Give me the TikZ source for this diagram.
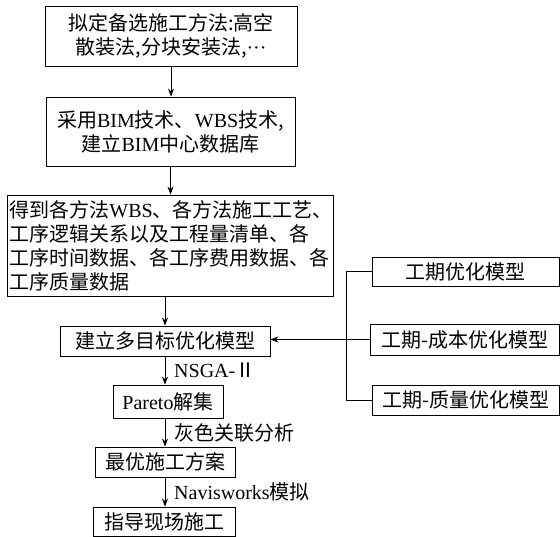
\documentclass[tikz,border=0pt]{standalone}
\usepackage{fontspec}
\setmainfont{Noto Sans CJK SC}
\newfontfamily\tnr{Liberation Serif}
\usetikzlibrary{arrows.meta}
\begin{document}
\begin{tikzpicture}[x=1pt,y=-1pt,
  box/.style={draw,line width=0.8pt,inner sep=0pt,font=\fontsize{20}{24}\selectfont},
  lbl/.style={anchor=west,inner sep=0pt,font=\fontsize{20}{24}\selectfont},
  arr/.style={-{Stealth[length=8pt,width=6pt]},line width=0.8pt},
  link/.style={line width=0.8pt}]
\useasboundingbox (0,0) rectangle (560,537);
\node[box,minimum width=252pt,minimum height=60pt,align=center] (b1) at (171,36) {拟定备选施工方法:高空\\散装法,分块安装法,{\tnr ···}};
\node[box,minimum width=249pt,minimum height=69pt,align=center] (b2) at (170.5,131.5) {采用{\tnr BIM}技术、{\tnr WBS}技术,\\建立{\tnr BIM}中心数据库};
\node[box,minimum width=326pt,minimum height=101pt,align=left,text width=321pt] (b3) at (170,245.5) {得到各方法{\tnr WBS}、各方法施工工艺、\\工序逻辑关系以及工程量清单、各\\工序时间数据、各工序费用数据、各\\工序质量数据};
\node[box,minimum width=210pt,minimum height=30pt] (b4) at (165,341) {建立多目标优化模型};
\node[box,minimum width=110pt,minimum height=33pt] (p) at (168,401.5) {{\tnr Pareto}解集};
\node[box,minimum width=140pt,minimum height=30pt] (o) at (165,462) {最优施工方案};
\node[box,minimum width=142pt,minimum height=29pt] (g) at (164,521.5) {指导现场施工};
\node[box,minimum width=187.5pt,minimum height=29pt] (ma) at (465.75,271.5) {工期优化模型};
\node[box,minimum width=189.5pt,minimum height=31pt] (mb) at (464.75,339.5) {工期-成本优化模型};
\node[box,minimum width=187.5pt,minimum height=30pt] (mc) at (465.75,400) {工期-质量优化模型};
\node[lbl] (l1) at (174,370) {{\tnr NSGA-}Ⅱ};
\node[lbl] (l2) at (174,433) {灰色关联分析};
\node[lbl] (l3) at (174,492) {{\tnr Navisworks}模拟};
\draw[arr] (b1.south) -- (b1.south |- b2.north);
\draw[arr] (b2.south) -- (b2.south |- b3.north);
\draw[arr] (b3.south -| b4.north) -- (b4.north);
\draw[arr] (b4.south) -- (b4.south |- p.north);
\draw[arr] (p.south -| o.north) -- (o.north);
\draw[arr] (o.south) -- (o.south |- g.north);
\draw[link] (ma.west) -- ++(-25,0) |- (mc.west);
\draw[arr] (mb.west) -- (mb.west -| b4.east);
\end{tikzpicture}
\end{document}
